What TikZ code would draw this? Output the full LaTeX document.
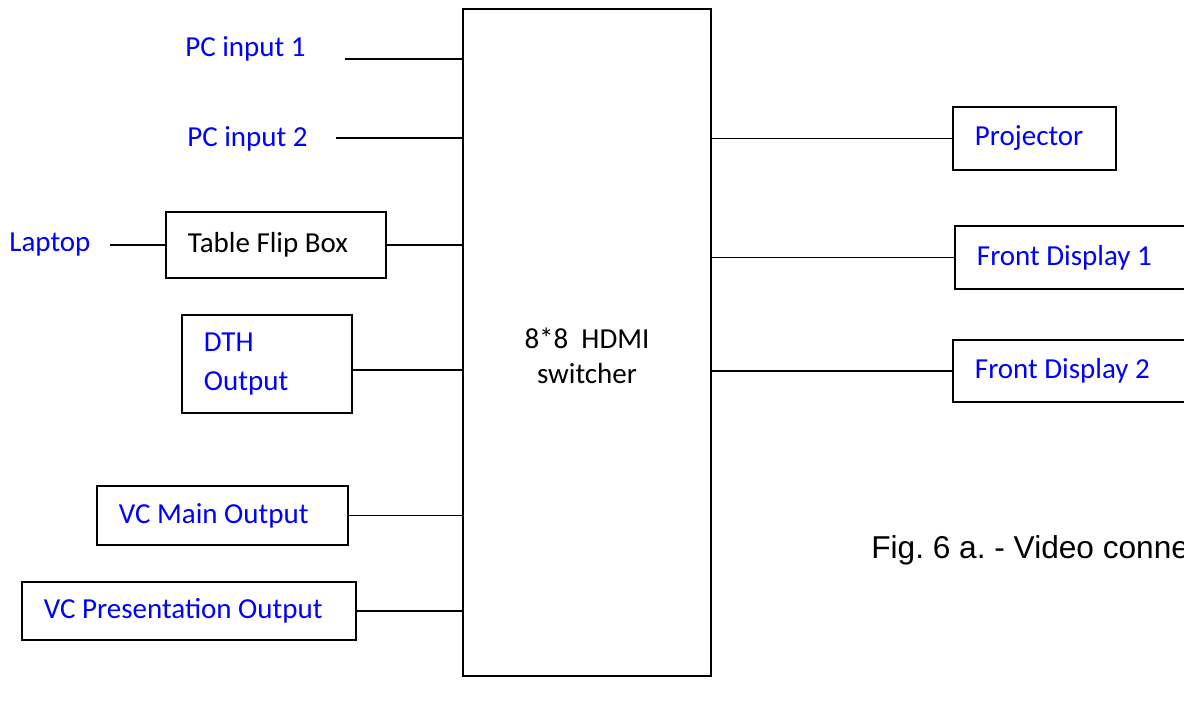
\documentclass[tikz,border=0pt]{standalone}
\usepackage{fontspec}
\setmainfont{Carlito}
\newfontfamily\capfont{Liberation Sans}
\frenchspacing

\tikzset{
	lbl/.style={blue, font=\fontsize{16.5pt}{22.7pt}\selectfont, inner sep=0pt},
	box/.style={draw, line width=1.1pt, anchor=west, align=flush left, inner xsep=0.44cm, inner ysep=0pt,
		font=\fontsize{16.5pt}{22.7pt}\selectfont, text=blue},
	wire/.style={line width=1.1pt}
}

\begin{document}
\begin{tikzpicture}[x=0.02cm,y=-0.02cm]

		\useasboundingbox (0,0) rectangle (1184,705);
		\clip (0,0) rectangle (1184,705);

		% switcher
		\node (sw) at (587,342.5) [draw,line width=1.1pt,minimum width=4.96cm,minimum height=13.34cm] {};
		\node (swtxt) at (587,356) [align=center,font=\fontsize{16.5pt}{19.8pt}\selectfont] {8*8\ \ HDMI\\switcher};

		% inputs
		\node (pca) at (185,57) [lbl,anchor=base west] {PC input 1};
		\coordinate (pcaend) at (345,59);
		\node (pcb) at (187,147) [lbl,anchor=base west] {PC input 2};
		\coordinate (pcbend) at (336,138);
		\node (lap) at (9,252) [lbl,anchor=base west] {Laptop};
		\coordinate (lapend) at (110,245);

		\node (flip) at (165,245) [box,text=black,text width=3.52cm,minimum height=1.32cm] {Table Flip Box};
		\node (dth) at (181,364) [box,text width=2.52cm,minimum height=1.96cm] {DTH\\Output};
		\node (vcm) at (96,515.5) [box,text width=4.14cm,minimum height=1.18cm] {VC Main Output};
		\node (vcp) at (21,611) [box,text width=5.8cm,minimum height=1.16cm] {VC Presentation Output};

		% outputs
		\node (proj) at (952,138.5) [box,text width=2.38cm,minimum height=1.26cm] {Projector};
		\node (fda) at (954,257.5) [box,text width=4.32cm,minimum height=1.26cm] {Front Display 1};
		\node (fdb) at (952,371) [box,text width=4.32cm,minimum height=1.24cm] {Front Display 2};

		\node (cap) at (871,559) [anchor=base west,inner sep=0pt,font=\capfont\fontsize{18pt}{22pt}\selectfont] {Fig. 6 a. - Video connections};

		\draw [wire] (pcaend) -- (pcaend -| sw.west);
		\draw [wire] (pcbend) -- (pcbend -| sw.west);
		\draw [wire] (lapend) -- (lapend -| flip.west);
		\draw [wire] (flip.east) -- (flip.east -| sw.west);
		\draw [wire] ([yshift=-0.12cm]dth.east) -- ([yshift=-0.12cm]dth.east -| sw.west);
		\draw [wire] (vcm.east) -- (vcm.east -| sw.west);
		\draw [wire] (vcp.east) -- (vcp.east -| sw.west);

		\draw [wire] (sw.east |- proj.west) -- (proj.west);
		\draw [wire] (sw.east |- fda.west) -- (fda.west);
		\draw [wire] (sw.east |- fdb.west) -- (fdb.west);

\end{tikzpicture}
\end{document}
